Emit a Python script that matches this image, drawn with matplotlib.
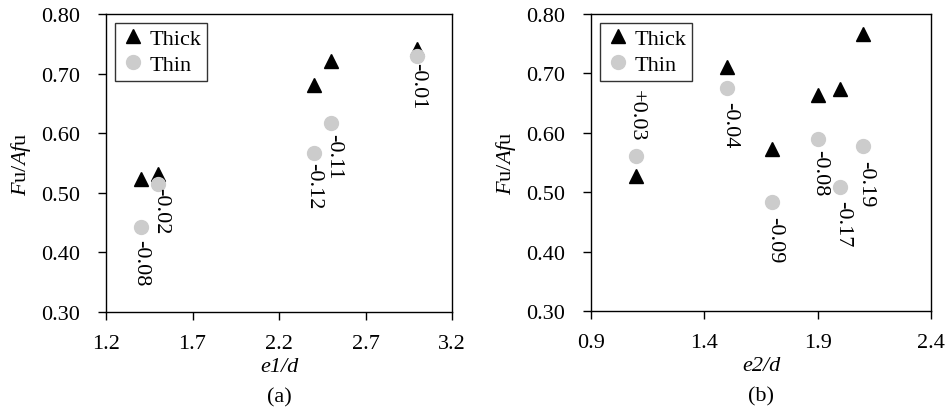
import matplotlib
matplotlib.use('Agg')
import matplotlib.pyplot as plt

plt.rcParams['font.family'] = 'Liberation Serif'
plt.rcParams['mathtext.fontset'] = 'custom'
plt.rcParams['mathtext.rm'] = 'Liberation Serif'
plt.rcParams['mathtext.it'] = 'Liberation Serif:italic'

# panel (a): e1/d
e1_thick = [1.4, 1.5, 2.4, 2.5, 3.0]
fu_a_thick = [0.523, 0.532, 0.681, 0.721, 0.741]
e1_thin = [1.4, 1.5, 2.4, 2.5, 3.0]
fu_a_thin = [0.442, 0.515, 0.566, 0.617, 0.729]
diff_a = ['-0.08', '-0.02', '-0.12', '-0.11', '-0.01']

# panel (b): e2/d
e2_thick = [1.1, 1.5, 1.7, 1.9, 2.0, 2.1]
fu_b_thick = [0.527, 0.710, 0.572, 0.664, 0.674, 0.766]
e2_thin = [1.1, 1.5, 1.7, 1.9, 2.0, 2.1]
fu_b_thin = [0.561, 0.676, 0.483, 0.589, 0.508, 0.578]
diff_b = ['+0.03', '-0.04', '-0.09', '-0.08', '-0.17', '-0.19']

xticks_a = [1.2, 1.7, 2.2, 2.7, 3.2]
xticks_b = [0.9, 1.4, 1.9, 2.4]
yticks = [0.30, 0.40, 0.50, 0.60, 0.70, 0.80]

# label offsets (points) from the Thin marker
off_a = [(0, -8.6), (2, -2), (0, -6), (2, -7), (0, -4)]
off_b = [(0, 11), (2, -9.4), (1.5, -10), (1.5, -7), (1.5, -9), (2, -10)]

FS = 16
GREY = '#cccccc'

fig = plt.figure(figsize=(9.47, 4.14), dpi=100)
W, H = 947, 414
ax_a = fig.add_axes([106 / W, (H - 313) / H, 346 / W, 298 / H])
ax_b = fig.add_axes([591 / W, (H - 312) / H, 340 / W, 297 / H])


def panel(ax, xt, yk, xn, yn, labels, offs, xticks, xlabel, tag):
    ax.plot(xt, yk, '^', color='black', markersize=10, label='Thick')
    ax.plot(xn, yn, 'o', color=GREY, markersize=10, label='Thin')
    for x, y, s, (dx, dy) in zip(xn, yn, labels, offs):
        ax.annotate(s, (x, y), xytext=(dx, dy), textcoords='offset points',
                    rotation=-90, ha='center',
                    va='bottom' if dy > 0 else 'top', fontsize=FS)
    ax.set_xlim(xticks[0], xticks[-1])
    ax.set_ylim(0.30, 0.80)
    ax.set_xticks(xticks)
    ax.set_xticklabels(['%.1f' % v for v in xticks])
    ax.set_yticks(yticks)
    ax.set_yticklabels(['%.2f' % v for v in yticks])
    ax.tick_params(direction='out', length=5.5, width=1, labelsize=FS)
    ax.tick_params(axis='y', pad=13)
    ax.tick_params(axis='x', pad=10)
    for sp in ax.spines.values():
        sp.set_linewidth(1)
    ax.set_xlabel(xlabel, fontsize=FS, style='italic', labelpad=3)
    ax.set_ylabel(r'$\mathit{F}\mathrm{u/}\mathit{Af}\mathrm{u}$', fontsize=FS, labelpad=6)
    leg = ax.legend(loc='upper left', fontsize=FS, frameon=True, fancybox=False,
                    edgecolor='black', handlelength=1.1, handletextpad=0.2,
                    borderpad=0.25, labelspacing=0.25, borderaxespad=0.4)
    leg.get_frame().set_linewidth(1)
    ax.text(0.5, -0.285, tag, transform=ax.transAxes, ha='center', va='center', fontsize=FS)


panel(ax_a, e1_thick, fu_a_thick, e1_thin, fu_a_thin, diff_a, off_a, xticks_a, 'e1/d', '(a)')
panel(ax_b, e2_thick, fu_b_thick, e2_thin, fu_b_thin, diff_b, off_b, xticks_b, 'e2/d', '(b)')

fig.savefig('out.png', dpi=100)
